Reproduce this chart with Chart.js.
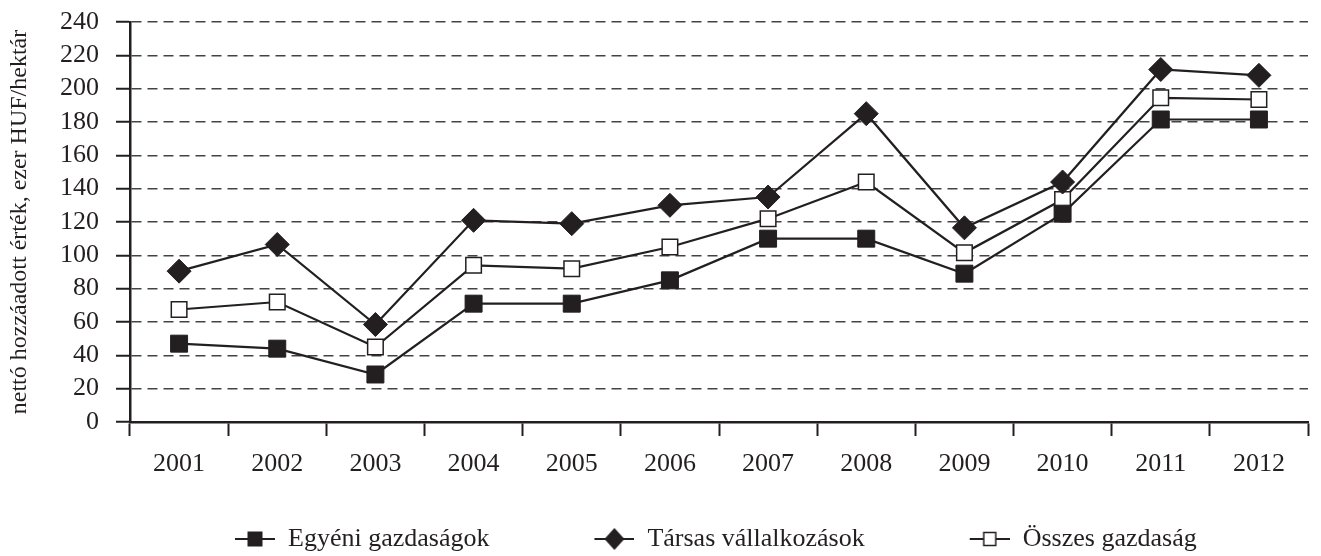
<!DOCTYPE html>
<html>
<head>
<meta charset="utf-8">
<script src="https://cdn.jsdelivr.net/npm/chart.js@4/dist/chart.umd.min.js"></script>
<style>
  html, body { margin: 0; padding: 0; background: #fff; }
  #wrap { width: 1321px; height: 556px; }
</style>
</head>
<body>
<div id="wrap"><canvas id="chart"></canvas></div>
<script>
const years = ['2001', '2002', '2003', '2004', '2005', '2006', '2007', '2008', '2009', '2010', '2011', '2012'];
const egyeni = [47, 44, 28.5, 71, 71, 85, 110, 110, 89, 125, 181.5, 181.5];
const tarsas = [90.5, 106.5, 58.5, 121, 119, 130, 135, 185, 116.5, 144, 211.5, 208];
const osszes = [67.5, 72, 45, 94, 92, 105, 122, 144, 101.5, 133.5, 194.5, 193.5];
const seriesNames = ['Egyéni gazdaságok', 'Társas vállalkozások', 'Összes gazdaság'];

const ink = '#231f20';
const serif = 'Liberation Serif';

// legend icons: short line with the marker on it (left part is empty spacing)
function legendIcon(kind) {
  const c = document.createElement('canvas');
  c.width = 105; c.height = 26;
  const g = c.getContext('2d');
  const cx = 85, cy = 13;
  g.strokeStyle = ink; g.lineWidth = 2.2;
  g.beginPath(); g.moveTo(65, cy); g.lineTo(105, cy); g.stroke();
  g.fillStyle = ink;
  if (kind === 'square') {
    g.fillRect(cx - 7.5, cy - 7.5, 15, 15);
  } else if (kind === 'diamond') {
    g.beginPath();
    g.moveTo(cx, cy - 11); g.lineTo(cx + 10, cy); g.lineTo(cx, cy + 11); g.lineTo(cx - 10, cy);
    g.closePath(); g.fill();
  } else {
    g.fillStyle = '#fff';
    g.fillRect(cx - 6, cy - 6.5, 12, 13);
    g.lineWidth = 1.5;
    g.strokeRect(cx - 6, cy - 6.5, 12, 13);
  }
  return c;
}
const icons = [legendIcon('square'), legendIcon('diamond'), legendIcon('open')];

new Chart(document.getElementById('chart'), {
  type: 'line',
  data: {
    labels: years,
    datasets: [
      {
        label: seriesNames[0], data: egyeni,
        borderColor: ink, borderWidth: 2.2,
        pointStyle: 'rect', pointRadius: 12,
        pointBackgroundColor: ink, pointBorderColor: ink, pointBorderWidth: 1
      },
      {
        label: seriesNames[1], data: tarsas,
        borderColor: ink, borderWidth: 2.2,
        pointStyle: 'rectRot', pointRadius: 12,
        pointBackgroundColor: ink, pointBorderColor: ink, pointBorderWidth: 1
      },
      {
        label: seriesNames[2], data: osszes,
        borderColor: ink, borderWidth: 2.2,
        pointStyle: 'rect', pointRadius: 11,
        pointBackgroundColor: '#fff', pointBorderColor: ink, pointBorderWidth: 1.5
      }
    ]
  },
  options: {
    responsive: true,
    maintainAspectRatio: false,
    animation: false,
    layout: { padding: { top: 22, right: 9, bottom: -6, left: 0 } },
    scales: {
      x: {
        offset: true,
        grid: {
          offset: true, drawOnChartArea: false, drawTicks: true,
          tickLength: 14, tickColor: ink, tickWidth: 2
        },
        border: { color: ink, width: 2.5 },
        ticks: { color: ink, padding: 13, font: { family: serif, size: 26 } },
        afterFit: (scale) => { scale.height = 64; }
      },
      y: {
        min: 0, max: 240,
        ticks: { stepSize: 20, autoSkip: false, color: ink, padding: 17, font: { family: serif, size: 26 } },
        grid: {
          color: '#444', lineWidth: 1.5,
          tickLength: 14, tickColor: ink, tickWidth: 2, tickBorderDash: []
        },
        border: { color: ink, width: 2.5, dash: [10, 6] },
        title: {
          display: true,
          text: 'nettó hozzáadott érték, ezer HUF/hektár',
          color: ink,
          font: { family: serif, size: 24 },
          padding: { top: 5, bottom: 4 }
        },
        afterFit: (scale) => {
          scale.width = 130;
          scale.paddingTop = 0;
          scale.paddingBottom = 0;
        }
      }
    },
    plugins: {
      tooltip: { enabled: false },
      legend: {
        position: 'bottom',
        align: 'start',
        fullSize: false,
        labels: {
          usePointStyle: true,
          pointStyleWidth: 105,
          padding: 40,
          color: ink,
          font: { family: serif, size: 26 },
          generateLabels: (chart) => chart.data.datasets.map((ds, i) => ({
            text: ds.label,
            pointStyle: icons[i],
            fontColor: ink,
            fillStyle: 'transparent',
            strokeStyle: 'transparent',
            lineWidth: 0,
            hidden: false,
            datasetIndex: i
          }))
        }
      }
    }
  }
});
</script>
</body>
</html>
